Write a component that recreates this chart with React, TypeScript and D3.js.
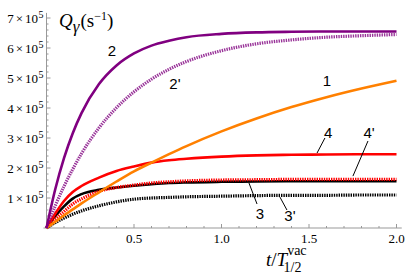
import React from 'react';
import * as d3 from 'd3';

// time in units of T1/2(vac), rates in units of 1e5 s^-1
const tGrid = [0, 0.05, 0.1, 0.15, 0.2, 0.3, 0.4, 0.5, 0.6, 0.7, 0.8, 1.0, 1.2, 1.4, 1.6, 1.8, 2.0];

const curve1 = [0, 0.21, 0.42, 0.62, 0.82, 1.19, 1.55, 1.89, 2.18, 2.46, 2.73, 3.22, 3.65, 4.03, 4.36, 4.65, 4.91];
const curve2 = [0, 1.29, 2.33, 3.16, 3.83, 4.8, 5.42, 5.82, 6.08, 6.24, 6.36, 6.47, 6.52, 6.54, 6.55, 6.55, 6.55];
const curve2p = [0, 0.74, 1.39, 1.96, 2.48, 3.34, 4.01, 4.54, 4.96, 5.29, 5.55, 5.91, 6.14, 6.27, 6.36, 6.41, 6.45];
const curve3 = [0, 0.4, 0.72, 0.98, 1.13, 1.27, 1.35, 1.41, 1.46, 1.5, 1.52, 1.54, 1.55, 1.56, 1.56, 1.56, 1.56];
const curve3p = [0, 0.18, 0.33, 0.46, 0.57, 0.74, 0.87, 0.96, 1.0, 1.02, 1.04, 1.06, 1.08, 1.09, 1.09, 1.1, 1.1];
const curve4 = [0, 0.48, 0.9, 1.2, 1.4, 1.68, 1.9, 2.05, 2.18, 2.26, 2.31, 2.38, 2.42, 2.44, 2.45, 2.46, 2.46];
const curve4p = [0, 0.3, 0.55, 0.8, 0.97, 1.22, 1.35, 1.43, 1.5, 1.54, 1.57, 1.6, 1.61, 1.62, 1.62, 1.62, 1.62];

const series = [
  { id: '3', values: curve3, color: '#000000', dotted: false },
  { id: '3p', values: curve3p, color: '#000000', dotted: true },
  { id: '4p', values: curve4p, color: '#ff0000', dotted: true },
  { id: '4', values: curve4, color: '#ff0000', dotted: false },
  { id: '1', values: curve1, color: '#ff8000', dotted: false },
  { id: '2p', values: curve2p, color: '#800080', dotted: true },
  { id: '2', values: curve2, color: '#800080', dotted: false },
];

const yMajor = [1, 2, 3, 4, 5, 6, 7];
const xMajor = [0.5, 1.0, 1.5, 2.0];

// curve labels (centre, data coords) and their leader lines
const labels = [
  { text: '2', t: 0.374, v: 5.93 },
  { text: "2'", t: 0.734, v: 4.83 },
  { text: '1', t: 1.603, v: 4.93 },
  { text: '4', t: 1.609, v: 3.2 },
  { text: "4'", t: 1.843, v: 3.2 },
  { text: '3', t: 1.22, v: 0.47 },
  { text: "3'", t: 1.391, v: 0.43 },
];
const leaders = [
  { t1: 1.591, v1: 3.0, t2: 1.546, v2: 2.5 },
  { t1: 1.837, v1: 2.9, t2: 1.751, v2: 1.73 },
  { t1: 1.157, v1: 1.5, t2: 1.203, v2: 0.8 },
  { t1: 1.334, v1: 1.03, t2: 1.374, v2: 0.6 },
];

const W = 407;
const H = 275;

export default function App() {
  const x = d3.scaleLinear().domain([0, 2]).range([46.5, 396.5]);
  const y = d3.scaleLinear().domain([0, 7]).range([228, 18]);

  const line = d3.line<[number, number]>()
    .x(d => x(d[0]))
    .y(d => y(d[1]))
    .curve(d3.curveMonotoneX);

  const xMinor = d3.range(0.1, 2.05, 0.1).filter(v => Math.abs(v * 2 - Math.round(v * 2)) > 0.01);
  const yMinor = d3.range(0.2, 7.15, 0.2).filter(v => Math.abs(v - Math.round(v)) > 0.01);

  const serif = '"Liberation Serif", "DejaVu Serif", serif';
  const sans = '"Liberation Sans", Arial, sans-serif';
  const axisCol = '#999999';

  return (
    <svg width={W} height={H} style={{ position: 'absolute', left: 0, top: 0, background: '#fff' }}>
      {/* axes */}
      <line x1={x(0)} x2={x(0)} y1={y(0)} y2={y(7.17)} stroke={axisCol} strokeWidth={1} />
      <line x1={x(0) - 3} x2={x(2.03)} y1={y(0)} y2={y(0)} stroke={axisCol} strokeWidth={1} />

      {xMajor.map(v => (
        <line key={'xM' + v} x1={x(v)} x2={x(v)} y1={y(0)} y2={y(0) - 4} stroke={axisCol} />
      ))}
      {xMinor.map(v => (
        <line key={'xm' + v} x1={x(v)} x2={x(v)} y1={y(0)} y2={y(0) - 2} stroke={axisCol} />
      ))}
      {yMajor.map(v => (
        <line key={'yM' + v} x1={x(0)} x2={x(0) + 4} y1={y(v)} y2={y(v)} stroke={axisCol} />
      ))}
      {yMinor.map(v => (
        <line key={'ym' + v} x1={x(0)} x2={x(0) + 2} y1={y(v)} y2={y(v)} stroke={axisCol} />
      ))}

      {/* tick labels */}
      {xMajor.map(v => (
        <text key={'xl' + v} x={x(v)} y={y(0) + 15} textAnchor="middle"
          fontFamily={serif} fontSize={13}>{v.toFixed(1)}</text>
      ))}
      {yMajor.map(v => (
        <text key={'yl' + v} x={x(0) - 3} y={y(v) + 5} textAnchor="end"
          fontFamily={serif} fontSize={13}>
          {v}<tspan dx={2}>×</tspan><tspan dx={2}>10</tspan>
          <tspan dx={0.5} dy={-5} fontSize={10}>5</tspan>
        </text>
      ))}

      {/* curves */}
      {series.map(s => (
        <path key={s.id}
          d={line(tGrid.map((t, i) => [t, s.values[i]] as [number, number])) || ''}
          fill="none"
          stroke={s.color}
          strokeWidth={s.dotted ? 3.2 : 2.6}
          strokeDasharray={s.dotted ? '1.4,1' : undefined}
          opacity={s.dotted && s.color === '#800080' ? 0.8 : 1}
        />
      ))}

      {/* leaders and labels */}
      {leaders.map((l, i) => (
        <line key={'ld' + i} x1={x(l.t1)} y1={y(l.v1)} x2={x(l.t2)} y2={y(l.v2)}
          stroke="#000" strokeWidth={1} />
      ))}
      {labels.map(l => (
        <text key={'lb' + l.text} x={x(l.t)} y={y(l.v)} textAnchor="middle"
          dominantBaseline="central" fontFamily={sans} fontSize={15}>{l.text}</text>
      ))}

      {/* axis titles */}
      <text x={59} y={27} fontFamily={serif} fontSize={19}>
        <tspan fontStyle="italic">Q</tspan>
        <tspan fontStyle="italic" fontSize={17} dy={5}>γ</tspan>
        <tspan dy={-5} dx={1}>(s</tspan>
        <tspan dy={-7} fontSize={12}>−1</tspan>
        <tspan dy={7}>)</tspan>
      </text>
      <text x={266} y={266} fontFamily={serif} fontSize={19}>
        <tspan fontStyle="italic">t</tspan>
        <tspan>/</tspan>
        <tspan fontStyle="italic">T</tspan>
        <tspan dy={-11} fontSize={14}>vac</tspan>
        <tspan dx={-23} dy={17} fontSize={14}>1/2</tspan>
      </text>
    </svg>
  );
}
